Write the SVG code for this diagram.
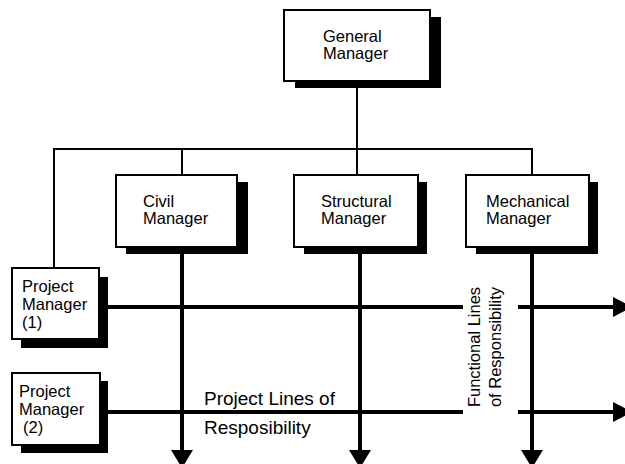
<svg xmlns="http://www.w3.org/2000/svg" width="625" height="464" viewBox="0 0 625 464">
  <style>
    .box { fill: #ffffff; stroke: #000000; stroke-width: 2; }
    .shadow { fill: #000000; }
    .label { font-family: "Liberation Sans", Arial, Helvetica, sans-serif; font-size: 16.5px; fill: #000000; }
    .big { font-size: 19px; }
    .thin { stroke: #000000; stroke-width: 2; fill: none; }
    .thick { stroke: #000000; stroke-width: 4; fill: none; }
    .head { fill: #000000; }
  </style>
  <rect width="625" height="464" fill="#ffffff"/>

  <!-- reporting lines and responsibility arrows -->
  <g id="connectors">
    <!-- hierarchy -->
    <line class="thin" x1="357" y1="86" x2="357" y2="149"/>
    <line class="thin" x1="53" y1="149" x2="533" y2="149"/>
    <line class="thin" x1="54" y1="148" x2="54" y2="268"/>
    <line class="thin" x1="182" y1="148" x2="182" y2="175"/>
    <line class="thin" x1="357" y1="148" x2="357" y2="175"/>
    <line class="thin" x1="532" y1="148" x2="532" y2="175"/>

    <!-- functional lines (vertical) -->
    <line class="thick" x1="182" y1="253" x2="182" y2="452"/>
    <polygon class="head" points="171,450 193,450 182,468"/>
    <line class="thick" x1="360" y1="253" x2="360" y2="452"/>
    <polygon class="head" points="349,450 371,450 360,468"/>
    <line class="thick" x1="532" y1="253" x2="532" y2="452"/>
    <polygon class="head" points="521,450 543,450 532,468"/>

    <!-- project lines (horizontal) -->
    <line class="thick" x1="107" y1="307" x2="463" y2="307"/>
    <line class="thick" x1="518" y1="307" x2="615" y2="307"/>
    <polygon class="head" points="613,297 613,317 632,307"/>
    <line class="thick" x1="107" y1="412" x2="463" y2="412"/>
    <line class="thick" x1="518" y1="412" x2="615" y2="412"/>
    <polygon class="head" points="613,402 613,422 632,412"/>
  </g>

  <g id="general-manager">
    <rect class="shadow" x="295" y="17" width="146" height="71"/>
    <rect class="box" x="284" y="10" width="146" height="71"/>
    <text class="label" x="323" y="42">General</text>
    <text class="label" x="323" y="59">Manager</text>
  </g>

  <g id="civil-manager">
    <rect class="shadow" x="126" y="182" width="122" height="72"/>
    <rect class="box" x="116" y="175" width="121" height="72"/>
    <text class="label" x="143" y="207">Civil</text>
    <text class="label" x="143" y="224">Manager</text>
  </g>

  <g id="structural-manager">
    <rect class="shadow" x="304" y="182" width="123" height="72"/>
    <rect class="box" x="294" y="175" width="124" height="72"/>
    <text class="label" x="321" y="207">Structural</text>
    <text class="label" x="321" y="224">Manager</text>
  </g>

  <g id="mechanical-manager">
    <rect class="shadow" x="476" y="182" width="122" height="72"/>
    <rect class="box" x="466" y="175" width="123" height="72"/>
    <text class="label" x="486" y="207">Mechanical</text>
    <text class="label" x="486" y="224">Manager</text>
  </g>

  <g id="project-manager-1">
    <rect class="shadow" x="21" y="277" width="87" height="71"/>
    <rect class="box" x="12" y="268" width="87" height="71"/>
    <text class="label" x="22" y="292">Project</text>
    <text class="label" x="22" y="310">Manager</text>
    <text class="label" x="22" y="328">(1)</text>
  </g>

  <g id="project-manager-2">
    <rect class="shadow" x="21" y="381" width="87" height="72"/>
    <rect class="box" x="12" y="373" width="88" height="72"/>
    <text class="label" x="19" y="397">Project</text>
    <text class="label" x="19" y="415">Manager</text>
    <text class="label" x="23" y="433">(2)</text>
  </g>

  <!-- line labels -->
  <g id="project-lines-label">
    <text class="label big" x="204" y="405">Project Lines of</text>
    <text class="label big" x="204" y="434">Resposibility</text>
  </g>
  <g id="functional-lines-label">
    <text class="label" transform="translate(480,347) rotate(-90)" text-anchor="middle">Functional Lines</text>
    <text class="label" transform="translate(501,347) rotate(-90)" text-anchor="middle">of Responsibility</text>
  </g>
</svg>
